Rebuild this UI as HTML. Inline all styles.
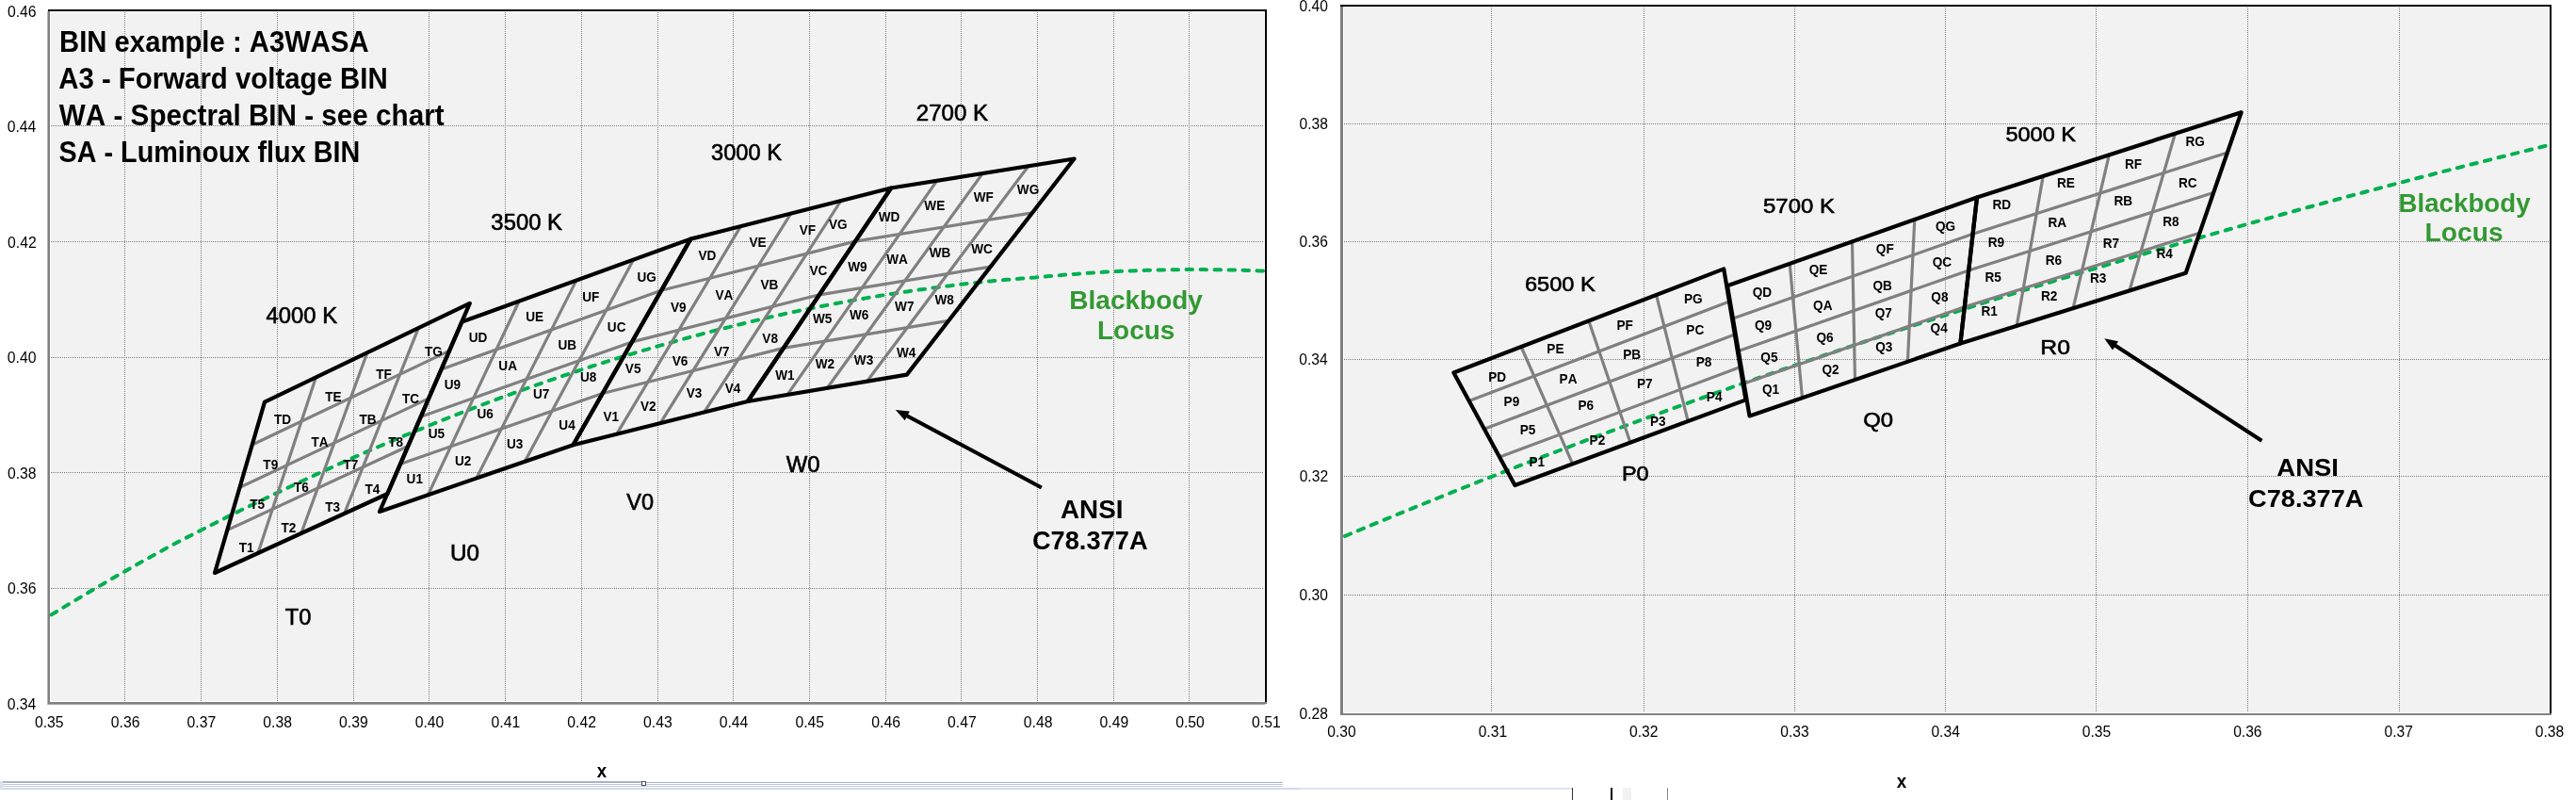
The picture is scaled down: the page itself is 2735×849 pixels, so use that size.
<!DOCTYPE html><html><head><meta charset="utf-8"><title>ANSI bins</title><style>
html,body{margin:0;padding:0;background:#fff;width:2735px;height:849px;overflow:hidden}
svg{display:block;will-change:transform}text{font-family:"Liberation Sans",sans-serif;font-kerning:none;white-space:pre}
</style></head><body>
<svg width="2735" height="849" viewBox="0 0 2735 849">
<rect x="51" y="10" width="1294" height="737" fill="#fff"/><rect x="54" y="13" width="1288" height="731" fill="#f2f2f2"/>
<rect x="1423" y="5" width="1286" height="754" fill="#fff"/><rect x="1427" y="8" width="1279" height="748" fill="#f2f2f2"/>
<path d="M132.5,13V744 M213.5,13V744 M294.5,13V744 M375.5,13V744 M455.5,13V744 M536.5,13V744 M617.5,13V744 M698.5,13V744 M778.5,13V744 M859.5,13V744 M940.5,13V744 M1020.5,13V744 M1101.5,13V744 M1182.5,13V744 M1262.5,13V744 M54,133.5H1342 M54,256.5H1342 M54,379.5H1342 M54,501.5H1342 M54,624.5H1342 M1583.5,8V756 M1745.5,8V756 M1905.5,8V756 M2065.5,8V756 M2225.5,8V756 M2386.5,8V756 M2547.5,8V756 M1427,131.5H2706 M1427,256.5H2706 M1427,381.5H2706 M1427,505.5H2706 M1427,631.5H2706" stroke="#7f7f7f" stroke-width="1" stroke-dasharray="1 1" fill="none" shape-rendering="crispEdges"/>
<defs><clipPath id="cl"><rect x="53" y="12" width="1290" height="733"/></clipPath><clipPath id="cr"><rect x="1426" y="7" width="1281" height="750"/></clipPath></defs>
<path clip-path="url(#cl)" d="M16.1,675.8 L20.7,673.0 L25.3,670.2 L30.0,667.4 L34.7,664.6 L39.5,661.8 L44.3,658.8 L49.2,655.7 L54.0,652.7 L59.0,649.7 L63.9,646.7 L69.0,643.6 L74.0,640.6 L79.1,637.5 L84.3,634.5 L89.5,631.4 L94.7,628.3 L100.0,625.2 L105.4,622.0 L110.8,618.9 L116.2,615.7 L121.7,612.5 L127.2,609.4 L132.8,606.2 L138.5,603.0 L144.2,599.8 L149.9,596.5 L155.7,593.3 L161.6,590.1 L167.5,586.8 L173.5,583.5 L179.5,580.2 L185.5,577.0 L191.7,573.8 L197.9,570.6 L204.1,567.4 L210.4,564.2 L216.8,561.0 L223.2,557.7 L229.7,554.5 L236.2,551.2 L242.8,547.9 L249.5,544.6 L256.2,541.3 L263.0,538.0 L269.9,534.7 L276.8,531.4 L283.8,528.0 L290.8,524.7 L298.5,521.0 L300.3,520.1 L302.1,519.3 L303.9,518.4 L305.7,517.6 L307.5,516.7 L309.3,515.9 L311.2,515.0 L313.0,514.1 L314.8,513.3 L316.6,512.4 L318.5,511.6 L320.3,510.7 L322.2,509.8 L324.0,509.0 L325.8,508.1 L327.7,507.2 L329.6,506.4 L331.4,505.5 L333.3,504.7 L335.2,503.8 L337.0,502.9 L338.9,502.1 L340.8,501.2 L342.7,500.3 L344.6,499.5 L346.5,498.6 L348.4,497.7 L350.3,496.9 L352.2,496.0 L354.1,495.1 L356.0,494.3 L357.9,493.4 L359.8,492.5 L361.8,491.7 L363.7,490.8 L365.6,489.9 L367.6,489.1 L369.5,488.2 L371.5,487.3 L373.4,486.5 L375.4,485.6 L377.3,484.7 L379.3,483.9 L381.3,483.0 L383.2,482.1 L385.2,481.3 L387.2,480.4 L389.2,479.5 L391.2,478.7 L393.2,477.8 L395.2,476.9 L397.2,476.1 L399.2,475.2 L401.2,474.3 L403.2,473.5 L405.2,472.6 L407.3,471.7 L409.3,470.9 L411.3,470.0 L413.4,469.1 L415.4,468.3 L417.5,467.4 L419.5,466.5 L421.6,465.7 L423.6,464.8 L425.7,463.9 L427.8,463.1 L429.9,462.2 L431.9,461.3 L434.0,460.5 L436.1,459.6 L438.2,458.7 L440.3,457.9 L442.4,457.0 L444.5,456.1 L446.7,455.3 L448.8,454.4 L450.9,453.5 L453.0,452.7 L455.2,451.8 L457.3,450.9 L459.4,450.1 L461.6,449.2 L463.7,448.3 L465.9,447.5 L468.1,446.6 L470.2,445.7 L472.4,444.9 L474.6,444.0 L476.8,443.1 L479.0,442.3 L481.2,441.4 L483.4,440.6 L485.6,439.7 L487.8,438.8 L490.0,438.0 L492.2,437.1 L494.4,436.3 L496.7,435.4 L498.9,434.5 L501.1,433.7 L503.4,432.8 L505.6,432.0 L507.9,431.1 L510.1,430.2 L512.4,429.4 L514.7,428.5 L516.9,427.7 L519.2,426.8 L521.5,426.0 L523.8,425.1 L526.1,424.3 L528.4,423.4 L530.7,422.5 L533.0,421.7 L535.3,420.8 L537.7,420.0 L540.0,419.1 L542.3,418.3 L544.7,417.4 L547.0,416.6 L549.4,415.7 L551.7,414.9 L554.1,414.0 L556.5,413.2 L558.8,412.4 L561.2,411.5 L563.6,410.7 L566.0,409.8 L568.4,409.0 L570.8,408.1 L573.2,407.3 L575.6,406.5 L578.0,405.6 L580.4,404.8 L582.9,403.9 L585.3,403.1 L587.7,402.3 L590.2,401.4 L592.6,400.6 L595.1,399.8 L597.6,398.9 L600.0,398.1 L602.5,397.3 L605.0,396.5 L607.5,395.6 L610.0,394.8 L612.5,394.0 L615.0,393.1 L617.5,392.3 L620.0,391.5 L622.5,390.7 L625.1,389.9 L627.6,389.0 L630.1,388.2 L632.7,387.4 L635.2,386.6 L637.8,385.8 L640.4,385.0 L642.9,384.1 L645.5,383.3 L648.1,382.5 L650.7,381.7 L653.3,380.9 L655.9,380.1 L658.5,379.3 L661.1,378.5 L663.7,377.7 L666.4,376.9 L669.0,376.1 L671.7,375.3 L674.3,374.5 L677.0,373.7 L679.6,372.9 L682.3,372.1 L685.0,371.3 L687.6,370.6 L690.3,369.8 L693.0,369.0 L695.7,368.2 L698.4,367.4 L701.1,366.6 L703.9,365.9 L706.6,365.1 L709.3,364.3 L712.1,363.5 L714.8,362.8 L717.6,362.0 L720.3,361.2 L723.1,360.5 L725.9,359.7 L728.6,358.9 L731.4,358.2 L734.2,357.4 L737.0,356.7 L739.8,355.9 L742.6,355.2 L745.5,354.4 L748.3,353.7 L751.1,352.9 L754.0,352.2 L756.8,351.4 L759.7,350.7 L762.5,350.0 L765.4,349.2 L768.3,348.5 L771.2,347.8 L774.1,347.1 L777.0,346.3 L779.9,345.6 L782.8,344.9 L785.7,344.2 L788.6,343.5 L791.6,342.7 L794.5,342.0 L797.4,341.3 L800.4,340.6 L803.4,339.9 L806.3,339.2 L809.3,338.5 L812.3,337.8 L815.3,337.1 L818.3,336.4 L821.3,335.8 L824.3,335.1 L827.3,334.4 L830.4,333.7 L833.4,333.0 L836.5,332.4 L839.5,331.7 L842.6,331.0 L845.6,330.4 L848.7,329.7 L851.8,329.1 L854.9,328.4 L858.0,327.8 L861.1,327.2 L864.2,326.6 L867.3,326.0 L870.5,325.3 L873.6,324.7 L876.7,324.1 L879.9,323.5 L883.1,322.9 L886.2,322.3 L889.4,321.7 L892.6,321.1 L895.8,320.6 L899.0,320.0 L902.2,319.4 L905.4,318.8 L908.6,318.2 L911.9,317.7 L915.1,317.1 L918.3,316.6 L921.6,316.0 L924.9,315.5 L928.1,314.9 L931.4,314.4 L934.7,313.8 L938.0,313.3 L941.3,312.8 L944.6,312.2 L947.9,311.7 L951.3,311.2 L954.6,310.7 L958.0,310.2 L961.3,309.7 L964.7,309.2 L968.1,308.7 L971.4,308.2 L974.8,307.7 L978.2,307.2 L981.6,306.8 L985.0,306.3 L988.5,305.8 L991.9,305.4 L995.3,304.9 L998.8,304.5 L1002.2,304.0 L1005.7,303.6 L1009.2,303.2 L1012.6,302.7 L1016.1,302.3 L1019.6,301.9 L1023.1,301.5 L1026.7,301.1 L1030.2,300.7 L1033.7,300.3 L1037.3,299.9 L1040.8,299.5 L1044.4,299.1 L1047.9,298.8 L1051.5,298.4 L1055.1,298.1 L1058.7,297.8 L1062.3,297.4 L1065.9,297.1 L1069.5,296.8 L1073.2,296.5 L1076.8,296.2 L1080.4,295.9 L1084.1,295.6 L1087.8,295.3 L1091.4,295.0 L1095.1,294.7 L1098.8,294.5 L1102.5,294.2 L1106.2,293.8 L1109.9,293.5 L1113.7,293.1 L1117.4,292.8 L1121.1,292.5 L1124.9,292.2 L1128.7,291.8 L1132.4,291.5 L1136.2,291.2 L1140.0,290.9 L1143.8,290.7 L1147.6,290.4 L1151.4,290.1 L1155.2,289.8 L1159.1,289.6 L1162.9,289.3 L1166.8,289.1 L1170.6,288.8 L1174.5,288.6 L1178.4,288.4 L1182.3,288.2 L1186.2,288.0 L1190.1,287.8 L1194.0,287.7 L1197.9,287.5 L1201.8,287.4 L1205.8,287.2 L1209.7,287.1 L1213.7,287.0 L1217.7,286.8 L1221.6,286.7 L1225.6,286.6 L1229.6,286.5 L1233.6,286.5 L1237.7,286.4 L1241.7,286.3 L1245.7,286.3 L1249.7,286.2 L1253.8,286.2 L1257.9,286.1 L1261.9,286.1 L1266.0,286.1 L1270.1,286.1 L1274.2,286.1 L1278.3,286.1 L1282.4,286.2 L1286.5,286.2 L1290.6,286.3 L1294.8,286.3 L1298.9,286.4 L1303.1,286.5 L1307.2,286.5 L1311.4,286.6 L1315.6,286.7 L1319.8,286.8 L1324.0,286.9 L1328.2,287.1 L1332.4,287.2 L1336.6,287.4 L1340.9,287.5 L1345.1,287.7 L1349.4,287.9 L1353.6,288.0 L1357.9,288.2 L1362.2,288.5 L1366.4,288.7 L1370.7,288.9 L1375.0,289.1 L1379.3,289.4 L1383.6,289.7" fill="none" stroke="#00b050" stroke-width="4" stroke-dasharray="6.5 8.5" stroke-linecap="round"/>
<path clip-path="url(#cr)" d="M1345.0,603.7 L1348.1,602.4 L1351.1,601.1 L1354.2,599.8 L1357.3,598.5 L1360.4,597.2 L1363.5,595.9 L1366.7,594.6 L1369.8,593.2 L1373.0,591.9 L1376.2,590.5 L1379.4,589.2 L1382.7,587.8 L1385.9,586.5 L1389.2,585.1 L1392.5,583.7 L1395.9,582.3 L1399.2,580.9 L1402.6,579.5 L1406.0,578.1 L1409.4,576.7 L1412.8,575.3 L1416.3,573.8 L1419.7,572.4 L1423.2,570.9 L1426.7,569.5 L1430.3,568.0 L1433.8,566.5 L1437.4,565.0 L1441.0,563.5 L1444.7,562.0 L1448.3,560.5 L1452.0,559.0 L1455.7,557.4 L1459.4,555.9 L1463.2,554.4 L1467.0,552.8 L1470.8,551.2 L1474.6,549.7 L1478.4,548.1 L1482.3,546.5 L1486.2,544.9 L1490.1,543.3 L1494.1,541.7 L1498.1,540.1 L1502.1,538.4 L1506.1,536.8 L1510.2,535.2 L1514.3,533.5 L1518.4,531.9 L1522.5,530.2 L1526.7,528.5 L1530.9,526.8 L1535.1,525.1 L1539.4,523.4 L1543.6,521.7 L1548.0,520.0 L1552.3,518.2 L1556.7,516.5 L1561.1,514.8 L1565.5,513.0 L1570.0,511.2 L1574.5,509.4 L1579.0,507.7 L1583.5,505.9 L1588.1,504.1 L1592.8,502.2 L1597.4,500.4 L1602.1,498.6 L1606.8,496.8 L1611.6,494.9 L1616.4,493.1 L1621.2,491.2 L1626.0,489.4 L1630.9,487.5 L1635.8,485.6 L1640.8,483.7 L1645.8,481.8 L1650.8,479.9 L1655.9,478.0 L1661.0,476.0 L1666.2,474.1 L1671.3,472.1 L1676.6,470.2 L1681.8,468.2 L1687.1,466.2 L1692.4,464.2 L1697.8,462.2 L1703.2,460.2 L1708.7,458.2 L1714.2,456.1 L1719.7,454.1 L1725.3,452.0 L1730.9,449.9 L1736.6,447.9 L1742.3,445.8 L1748.0,443.7 L1753.8,441.6 L1759.6,439.4 L1765.5,437.3 L1771.4,435.1 L1777.4,433.0 L1783.4,430.8 L1789.5,428.6 L1795.6,426.4 L1801.8,424.2 L1808.0,422.0 L1814.2,419.8 L1820.5,417.5 L1826.9,415.3 L1833.3,413.0 L1839.7,410.7 L1846.2,408.4 L1852.8,406.1 L1859.4,403.8 L1866.0,401.5 L1872.7,399.1 L1879.5,396.8 L1886.3,394.4 L1893.2,392.0 L1900.1,389.6 L1907.1,387.2 L1914.1,384.8 L1921.2,382.4 L1928.4,380.0 L1935.6,377.5 L1942.9,375.0 L1950.2,372.6 L1957.6,370.1 L1965.0,367.6 L1972.5,365.0 L1980.1,362.5 L1987.7,360.0 L1995.4,357.4 L2003.2,354.8 L2011.0,352.3 L2018.9,349.7 L2026.9,347.0 L2034.9,344.4 L2043.0,341.8 L2051.2,339.1 L2059.4,336.5 L2067.7,333.8 L2076.1,331.1 L2084.5,328.4 L2093.0,325.7 L2101.6,322.9 L2110.3,320.2 L2119.0,317.4 L2127.9,314.7 L2136.7,311.9 L2145.7,309.1 L2154.8,306.3 L2163.9,303.4 L2173.1,300.6 L2182.4,297.7 L2191.7,294.9 L2201.2,292.0 L2210.7,289.1 L2220.3,286.2 L2230.0,283.3 L2239.8,280.3 L2249.7,277.4 L2259.7,274.4 L2269.7,271.4 L2279.9,268.4 L2290.1,265.4 L2300.4,262.4 L2310.9,259.4 L2321.4,256.3 L2332.0,253.3 L2342.7,250.2 L2353.5,247.1 L2364.4,244.0 L2375.4,240.9 L2386.5,237.7 L2397.7,234.6 L2409.0,231.5 L2420.4,228.3 L2431.9,225.1 L2443.5,221.9 L2455.3,218.7 L2467.1,215.5 L2479.0,212.3 L2491.1,209.0 L2503.3,205.8 L2515.6,202.5 L2528.0,199.2 L2540.5,195.9 L2553.1,192.6 L2565.8,189.3 L2578.7,186.0 L2591.7,182.6 L2604.8,179.3 L2618.1,175.9 L2631.4,172.6 L2644.9,169.2 L2658.5,165.8 L2672.3,162.4 L2686.1,159.0 L2700.1,155.5 L2715.4,151.8 L2718.9,150.9 L2722.5,150.1 L2726.1,149.2 L2729.7,148.3 L2733.3,147.4 L2736.9,146.5 L2740.5,145.7 L2744.1,144.8 L2747.7,143.9 L2751.3,143.0 L2755.0,142.2 L2758.6,141.3 L2762.3,140.4 L2766.0,139.5 L2769.6,138.6 L2773.3,137.8 L2777.0,136.9 L2780.7,136.0 L2784.4,135.1" fill="none" stroke="#00b050" stroke-width="4" stroke-dasharray="6.5 8.5" stroke-linecap="round"/>
<g stroke="#808080" stroke-width="3.2" stroke-linecap="round"><line x1="273.9" y1="587.0" x2="335.4" y2="400.4"/><line x1="241.2" y1="562.6" x2="433.3" y2="473.5"/><line x1="319.8" y1="566.0" x2="389.9" y2="374.2"/><line x1="254.5" y1="517.3" x2="455.1" y2="422.9"/><line x1="365.6" y1="545.0" x2="444.3" y2="348.1"/><line x1="267.8" y1="472.0" x2="476.9" y2="372.4"/></g><g stroke="#808080" stroke-width="3.2" stroke-linecap="round"><line x1="454.4" y1="525.3" x2="551.2" y2="319.5"/><line x1="424.9" y1="492.6" x2="639.7" y2="417.5"/><line x1="505.8" y1="507.6" x2="611.9" y2="297.6"/><line x1="446.8" y1="442.2" x2="670.9" y2="362.9"/><line x1="557.1" y1="489.9" x2="672.6" y2="275.6"/><line x1="468.6" y1="391.9" x2="702.1" y2="308.2"/></g><g stroke="#808080" stroke-width="3.2" stroke-linecap="round"><line x1="654.8" y1="460.6" x2="786.5" y2="240.1"/><line x1="639.7" y1="417.5" x2="831.9" y2="369.4"/><line x1="701.1" y1="449.1" x2="839.7" y2="226.6"/><line x1="670.9" y1="362.9" x2="870.0" y2="312.8"/><line x1="747.5" y1="437.6" x2="892.9" y2="213.0"/><line x1="702.1" y1="308.2" x2="908.0" y2="256.1"/></g><g stroke="#808080" stroke-width="3.2" stroke-linecap="round"><line x1="836.0" y1="418.9" x2="994.7" y2="191.8"/><line x1="831.9" y1="369.4" x2="1007.2" y2="340.3"/><line x1="878.3" y1="411.8" x2="1043.3" y2="184.0"/><line x1="870.0" y1="312.8" x2="1051.6" y2="283.1"/><line x1="920.5" y1="404.7" x2="1091.9" y2="176.2"/><line x1="908.0" y1="256.1" x2="1096.1" y2="225.8"/></g><g stroke="#808080" stroke-width="3.2" stroke-linecap="round"><line x1="1669.7" y1="492.4" x2="1615.1" y2="368.0"/><line x1="1592.2" y1="485.1" x2="1847.7" y2="389.6"/><line x1="1731.0" y1="469.7" x2="1686.8" y2="340.4"/><line x1="1575.9" y1="455.2" x2="1841.8" y2="354.9"/><line x1="1792.2" y1="447.0" x2="1758.5" y2="312.9"/><line x1="1559.7" y1="425.4" x2="1836.0" y2="320.1"/></g><g stroke="#808080" stroke-width="3.2" stroke-linecap="round"><line x1="1913.5" y1="422.3" x2="1900.2" y2="279.9"/><line x1="1851.6" y1="406.9" x2="2085.8" y2="325.8"/><line x1="1969.5" y1="403.1" x2="1966.5" y2="256.4"/><line x1="1845.8" y1="372.4" x2="2090.2" y2="287.1"/><line x1="2025.4" y1="383.8" x2="2032.8" y2="232.9"/><line x1="1839.9" y1="337.9" x2="2094.6" y2="248.3"/></g><g stroke="#808080" stroke-width="3.2" stroke-linecap="round"><line x1="2141.2" y1="345.9" x2="2169.2" y2="186.9"/><line x1="2085.8" y1="325.8" x2="2335.4" y2="247.2"/><line x1="2201.1" y1="327.2" x2="2239.3" y2="164.4"/><line x1="2090.2" y1="287.1" x2="2350.1" y2="204.5"/><line x1="2260.9" y1="308.5" x2="2309.4" y2="141.8"/><line x1="2094.6" y1="248.3" x2="2364.9" y2="161.9"/></g>
<polygon points="228.0,608.0 411.5,524.0 498.8,321.9 281.0,426.6" fill="none" stroke="#000" stroke-width="4.2" stroke-linejoin="round"/><polygon points="403.0,543.0 608.5,472.2 733.3,253.6 490.5,341.5" fill="none" stroke="#000" stroke-width="4.2" stroke-linejoin="round"/><polygon points="608.5,472.2 793.8,426.0 946.1,199.5 733.3,253.6" fill="none" stroke="#000" stroke-width="4.2" stroke-linejoin="round"/><polygon points="793.8,426.0 962.8,397.6 1140.5,168.5 946.1,199.5" fill="none" stroke="#000" stroke-width="4.2" stroke-linejoin="round"/><polygon points="1608.4,515.0 1853.5,424.4 1830.2,285.4 1543.4,395.5" fill="none" stroke="#000" stroke-width="4.2" stroke-linejoin="round"/><polygon points="1857.5,441.5 2081.4,364.6 2099.0,209.5 1834.0,303.3" fill="none" stroke="#000" stroke-width="4.2" stroke-linejoin="round"/><polygon points="2081.4,364.6 2320.7,289.8 2379.6,119.2 2099.0,209.5" fill="none" stroke="#000" stroke-width="4.2" stroke-linejoin="round"/>
<text x="253.77" y="585.60" font-size="14.80" font-weight="bold" textLength="15.89" lengthAdjust="spacingAndGlyphs" fill="#000">T1</text><text x="298.45" y="565.20" font-size="14.80" font-weight="bold" textLength="15.89" lengthAdjust="spacingAndGlyphs" fill="#000">T2</text><text x="345.22" y="543.10" font-size="14.80" font-weight="bold" textLength="15.89" lengthAdjust="spacingAndGlyphs" fill="#000">T3</text><text x="387.52" y="524.00" font-size="14.80" font-weight="bold" textLength="15.89" lengthAdjust="spacingAndGlyphs" fill="#000">T4</text><text x="265.27" y="540.10" font-size="14.80" font-weight="bold" textLength="15.89" lengthAdjust="spacingAndGlyphs" fill="#000">T5</text><text x="312.02" y="521.80" font-size="14.80" font-weight="bold" textLength="15.89" lengthAdjust="spacingAndGlyphs" fill="#000">T6</text><text x="364.38" y="497.60" font-size="14.80" font-weight="bold" textLength="15.89" lengthAdjust="spacingAndGlyphs" fill="#000">T7</text><text x="412.29" y="474.20" font-size="14.80" font-weight="bold" textLength="15.89" lengthAdjust="spacingAndGlyphs" fill="#000">T8</text><text x="279.33" y="497.60" font-size="14.80" font-weight="bold" textLength="15.89" lengthAdjust="spacingAndGlyphs" fill="#000">T9</text><text x="330.43" y="474.20" font-size="14.80" font-weight="bold" textLength="18.15" lengthAdjust="spacingAndGlyphs" fill="#000">TA</text><text x="381.56" y="450.40" font-size="14.80" font-weight="bold" textLength="18.15" lengthAdjust="spacingAndGlyphs" fill="#000">TB</text><text x="426.93" y="428.30" font-size="14.80" font-weight="bold" textLength="18.15" lengthAdjust="spacingAndGlyphs" fill="#000">TC</text><text x="291.03" y="449.60" font-size="14.80" font-weight="bold" textLength="18.15" lengthAdjust="spacingAndGlyphs" fill="#000">TD</text><text x="345.29" y="426.20" font-size="14.80" font-weight="bold" textLength="17.40" lengthAdjust="spacingAndGlyphs" fill="#000">TE</text><text x="399.26" y="402.00" font-size="14.80" font-weight="bold" textLength="16.63" lengthAdjust="spacingAndGlyphs" fill="#000">TF</text><text x="450.99" y="378.20" font-size="14.80" font-weight="bold" textLength="18.91" lengthAdjust="spacingAndGlyphs" fill="#000">TG</text><text x="431.58" y="513.00" font-size="14.80" font-weight="bold" textLength="17.41" lengthAdjust="spacingAndGlyphs" fill="#000">U1</text><text x="482.96" y="493.50" font-size="14.80" font-weight="bold" textLength="17.41" lengthAdjust="spacingAndGlyphs" fill="#000">U2</text><text x="538.03" y="475.50" font-size="14.80" font-weight="bold" textLength="17.41" lengthAdjust="spacingAndGlyphs" fill="#000">U3</text><text x="593.32" y="456.00" font-size="14.80" font-weight="bold" textLength="17.41" lengthAdjust="spacingAndGlyphs" fill="#000">U4</text><text x="454.78" y="465.00" font-size="14.80" font-weight="bold" textLength="17.41" lengthAdjust="spacingAndGlyphs" fill="#000">U5</text><text x="506.53" y="444.40" font-size="14.80" font-weight="bold" textLength="17.41" lengthAdjust="spacingAndGlyphs" fill="#000">U6</text><text x="565.89" y="422.60" font-size="14.80" font-weight="bold" textLength="17.41" lengthAdjust="spacingAndGlyphs" fill="#000">U7</text><text x="616.00" y="405.00" font-size="14.80" font-weight="bold" textLength="17.41" lengthAdjust="spacingAndGlyphs" fill="#000">U8</text><text x="471.74" y="412.50" font-size="14.80" font-weight="bold" textLength="17.41" lengthAdjust="spacingAndGlyphs" fill="#000">U9</text><text x="529.34" y="393.00" font-size="14.80" font-weight="bold" textLength="19.67" lengthAdjust="spacingAndGlyphs" fill="#000">UA</text><text x="592.47" y="370.50" font-size="14.80" font-weight="bold" textLength="19.67" lengthAdjust="spacingAndGlyphs" fill="#000">UB</text><text x="644.84" y="351.80" font-size="14.80" font-weight="bold" textLength="19.67" lengthAdjust="spacingAndGlyphs" fill="#000">UC</text><text x="497.64" y="362.70" font-size="14.80" font-weight="bold" textLength="19.67" lengthAdjust="spacingAndGlyphs" fill="#000">UD</text><text x="558.30" y="340.60" font-size="14.80" font-weight="bold" textLength="18.91" lengthAdjust="spacingAndGlyphs" fill="#000">UE</text><text x="618.27" y="319.60" font-size="14.80" font-weight="bold" textLength="18.15" lengthAdjust="spacingAndGlyphs" fill="#000">UF</text><text x="676.50" y="299.30" font-size="14.80" font-weight="bold" textLength="20.42" lengthAdjust="spacingAndGlyphs" fill="#000">UG</text><text x="640.52" y="446.80" font-size="14.80" font-weight="bold" textLength="16.65" lengthAdjust="spacingAndGlyphs" fill="#000">V1</text><text x="680.00" y="436.30" font-size="14.80" font-weight="bold" textLength="16.65" lengthAdjust="spacingAndGlyphs" fill="#000">V2</text><text x="728.77" y="422.40" font-size="14.80" font-weight="bold" textLength="16.65" lengthAdjust="spacingAndGlyphs" fill="#000">V3</text><text x="769.76" y="416.80" font-size="14.80" font-weight="bold" textLength="16.65" lengthAdjust="spacingAndGlyphs" fill="#000">V4</text><text x="663.82" y="395.80" font-size="14.80" font-weight="bold" textLength="16.65" lengthAdjust="spacingAndGlyphs" fill="#000">V5</text><text x="713.77" y="388.00" font-size="14.80" font-weight="bold" textLength="16.65" lengthAdjust="spacingAndGlyphs" fill="#000">V6</text><text x="758.03" y="377.50" font-size="14.80" font-weight="bold" textLength="16.65" lengthAdjust="spacingAndGlyphs" fill="#000">V7</text><text x="809.34" y="364.30" font-size="14.80" font-weight="bold" textLength="16.65" lengthAdjust="spacingAndGlyphs" fill="#000">V8</text><text x="711.88" y="330.60" font-size="14.80" font-weight="bold" textLength="16.65" lengthAdjust="spacingAndGlyphs" fill="#000">V9</text><text x="759.38" y="318.20" font-size="14.80" font-weight="bold" textLength="18.91" lengthAdjust="spacingAndGlyphs" fill="#000">VA</text><text x="807.51" y="307.00" font-size="14.80" font-weight="bold" textLength="18.91" lengthAdjust="spacingAndGlyphs" fill="#000">VB</text><text x="859.48" y="292.00" font-size="14.80" font-weight="bold" textLength="18.91" lengthAdjust="spacingAndGlyphs" fill="#000">VC</text><text x="741.48" y="276.20" font-size="14.80" font-weight="bold" textLength="18.91" lengthAdjust="spacingAndGlyphs" fill="#000">VD</text><text x="795.44" y="262.00" font-size="14.80" font-weight="bold" textLength="18.16" lengthAdjust="spacingAndGlyphs" fill="#000">VE</text><text x="848.70" y="248.80" font-size="14.80" font-weight="bold" textLength="17.40" lengthAdjust="spacingAndGlyphs" fill="#000">VF</text><text x="880.04" y="243.20" font-size="14.80" font-weight="bold" textLength="19.67" lengthAdjust="spacingAndGlyphs" fill="#000">VG</text><text x="823.17" y="402.60" font-size="14.80" font-weight="bold" textLength="20.42" lengthAdjust="spacingAndGlyphs" fill="#000">W1</text><text x="865.65" y="391.30" font-size="14.80" font-weight="bold" textLength="20.42" lengthAdjust="spacingAndGlyphs" fill="#000">W2</text><text x="906.83" y="386.50" font-size="14.80" font-weight="bold" textLength="20.42" lengthAdjust="spacingAndGlyphs" fill="#000">W3</text><text x="952.02" y="379.30" font-size="14.80" font-weight="bold" textLength="20.42" lengthAdjust="spacingAndGlyphs" fill="#000">W4</text><text x="862.97" y="342.60" font-size="14.80" font-weight="bold" textLength="20.42" lengthAdjust="spacingAndGlyphs" fill="#000">W5</text><text x="902.03" y="338.80" font-size="14.80" font-weight="bold" textLength="20.42" lengthAdjust="spacingAndGlyphs" fill="#000">W6</text><text x="950.08" y="330.40" font-size="14.80" font-weight="bold" textLength="20.42" lengthAdjust="spacingAndGlyphs" fill="#000">W7</text><text x="992.39" y="323.10" font-size="14.80" font-weight="bold" textLength="20.42" lengthAdjust="spacingAndGlyphs" fill="#000">W8</text><text x="900.13" y="287.50" font-size="14.80" font-weight="bold" textLength="20.42" lengthAdjust="spacingAndGlyphs" fill="#000">W9</text><text x="941.23" y="280.40" font-size="14.80" font-weight="bold" textLength="22.68" lengthAdjust="spacingAndGlyphs" fill="#000">WA</text><text x="986.76" y="272.70" font-size="14.80" font-weight="bold" textLength="22.68" lengthAdjust="spacingAndGlyphs" fill="#000">WB</text><text x="1031.24" y="268.80" font-size="14.80" font-weight="bold" textLength="22.68" lengthAdjust="spacingAndGlyphs" fill="#000">WC</text><text x="932.74" y="235.00" font-size="14.80" font-weight="bold" textLength="22.68" lengthAdjust="spacingAndGlyphs" fill="#000">WD</text><text x="981.29" y="223.30" font-size="14.80" font-weight="bold" textLength="21.93" lengthAdjust="spacingAndGlyphs" fill="#000">WE</text><text x="1033.66" y="213.60" font-size="14.80" font-weight="bold" textLength="21.17" lengthAdjust="spacingAndGlyphs" fill="#000">WF</text><text x="1079.79" y="206.40" font-size="14.80" font-weight="bold" textLength="23.44" lengthAdjust="spacingAndGlyphs" fill="#000">WG</text><text x="1623.51" y="495.40" font-size="14.80" font-weight="bold" textLength="16.65" lengthAdjust="spacingAndGlyphs" fill="#000">P1</text><text x="1687.59" y="471.70" font-size="14.80" font-weight="bold" textLength="16.65" lengthAdjust="spacingAndGlyphs" fill="#000">P2</text><text x="1751.96" y="451.60" font-size="14.80" font-weight="bold" textLength="16.65" lengthAdjust="spacingAndGlyphs" fill="#000">P3</text><text x="1811.85" y="426.20" font-size="14.80" font-weight="bold" textLength="16.65" lengthAdjust="spacingAndGlyphs" fill="#000">P4</text><text x="1613.81" y="461.00" font-size="14.80" font-weight="bold" textLength="16.65" lengthAdjust="spacingAndGlyphs" fill="#000">P5</text><text x="1675.56" y="435.00" font-size="14.80" font-weight="bold" textLength="16.65" lengthAdjust="spacingAndGlyphs" fill="#000">P6</text><text x="1738.02" y="411.60" font-size="14.80" font-weight="bold" textLength="16.65" lengthAdjust="spacingAndGlyphs" fill="#000">P7</text><text x="1800.63" y="388.80" font-size="14.80" font-weight="bold" textLength="16.65" lengthAdjust="spacingAndGlyphs" fill="#000">P8</text><text x="1596.57" y="431.10" font-size="14.80" font-weight="bold" textLength="16.65" lengthAdjust="spacingAndGlyphs" fill="#000">P9</text><text x="1655.57" y="406.70" font-size="14.80" font-weight="bold" textLength="18.91" lengthAdjust="spacingAndGlyphs" fill="#000">PA</text><text x="1723.30" y="380.70" font-size="14.80" font-weight="bold" textLength="18.91" lengthAdjust="spacingAndGlyphs" fill="#000">PB</text><text x="1790.37" y="354.70" font-size="14.80" font-weight="bold" textLength="18.91" lengthAdjust="spacingAndGlyphs" fill="#000">PC</text><text x="1580.27" y="405.10" font-size="14.80" font-weight="bold" textLength="18.91" lengthAdjust="spacingAndGlyphs" fill="#000">PD</text><text x="1642.33" y="375.20" font-size="14.80" font-weight="bold" textLength="18.16" lengthAdjust="spacingAndGlyphs" fill="#000">PE</text><text x="1716.49" y="349.80" font-size="14.80" font-weight="bold" textLength="17.40" lengthAdjust="spacingAndGlyphs" fill="#000">PF</text><text x="1788.03" y="322.20" font-size="14.80" font-weight="bold" textLength="19.67" lengthAdjust="spacingAndGlyphs" fill="#000">PG</text><text x="1870.93" y="418.40" font-size="14.80" font-weight="bold" textLength="18.16" lengthAdjust="spacingAndGlyphs" fill="#000">Q1</text><text x="1934.41" y="397.20" font-size="14.80" font-weight="bold" textLength="18.16" lengthAdjust="spacingAndGlyphs" fill="#000">Q2</text><text x="1991.28" y="372.90" font-size="14.80" font-weight="bold" textLength="18.16" lengthAdjust="spacingAndGlyphs" fill="#000">Q3</text><text x="2049.58" y="353.40" font-size="14.80" font-weight="bold" textLength="18.16" lengthAdjust="spacingAndGlyphs" fill="#000">Q4</text><text x="1869.33" y="383.60" font-size="14.80" font-weight="bold" textLength="18.16" lengthAdjust="spacingAndGlyphs" fill="#000">Q5</text><text x="1928.48" y="363.40" font-size="14.80" font-weight="bold" textLength="18.16" lengthAdjust="spacingAndGlyphs" fill="#000">Q6</text><text x="1990.64" y="337.10" font-size="14.80" font-weight="bold" textLength="18.16" lengthAdjust="spacingAndGlyphs" fill="#000">Q7</text><text x="2050.35" y="319.60" font-size="14.80" font-weight="bold" textLength="18.16" lengthAdjust="spacingAndGlyphs" fill="#000">Q8</text><text x="1862.89" y="350.40" font-size="14.80" font-weight="bold" textLength="18.16" lengthAdjust="spacingAndGlyphs" fill="#000">Q9</text><text x="1925.09" y="329.00" font-size="14.80" font-weight="bold" textLength="20.42" lengthAdjust="spacingAndGlyphs" fill="#000">QA</text><text x="1988.52" y="307.90" font-size="14.80" font-weight="bold" textLength="20.42" lengthAdjust="spacingAndGlyphs" fill="#000">QB</text><text x="2051.79" y="282.80" font-size="14.80" font-weight="bold" textLength="20.42" lengthAdjust="spacingAndGlyphs" fill="#000">QC</text><text x="1860.79" y="315.30" font-size="14.80" font-weight="bold" textLength="20.42" lengthAdjust="spacingAndGlyphs" fill="#000">QD</text><text x="1920.65" y="291.00" font-size="14.80" font-weight="bold" textLength="19.67" lengthAdjust="spacingAndGlyphs" fill="#000">QE</text><text x="1991.82" y="269.20" font-size="14.80" font-weight="bold" textLength="18.91" lengthAdjust="spacingAndGlyphs" fill="#000">QF</text><text x="2054.95" y="244.50" font-size="14.80" font-weight="bold" textLength="21.18" lengthAdjust="spacingAndGlyphs" fill="#000">QG</text><text x="2103.53" y="335.40" font-size="14.80" font-weight="bold" textLength="17.41" lengthAdjust="spacingAndGlyphs" fill="#000">R1</text><text x="2166.91" y="318.80" font-size="14.80" font-weight="bold" textLength="17.41" lengthAdjust="spacingAndGlyphs" fill="#000">R2</text><text x="2218.89" y="300.30" font-size="14.80" font-weight="bold" textLength="17.41" lengthAdjust="spacingAndGlyphs" fill="#000">R3</text><text x="2289.48" y="274.30" font-size="14.80" font-weight="bold" textLength="17.41" lengthAdjust="spacingAndGlyphs" fill="#000">R4</text><text x="2107.43" y="298.70" font-size="14.80" font-weight="bold" textLength="17.41" lengthAdjust="spacingAndGlyphs" fill="#000">R5</text><text x="2171.79" y="280.80" font-size="14.80" font-weight="bold" textLength="17.41" lengthAdjust="spacingAndGlyphs" fill="#000">R6</text><text x="2232.64" y="262.90" font-size="14.80" font-weight="bold" textLength="17.41" lengthAdjust="spacingAndGlyphs" fill="#000">R7</text><text x="2296.15" y="239.50" font-size="14.80" font-weight="bold" textLength="17.41" lengthAdjust="spacingAndGlyphs" fill="#000">R8</text><text x="2110.69" y="261.90" font-size="14.80" font-weight="bold" textLength="17.41" lengthAdjust="spacingAndGlyphs" fill="#000">R9</text><text x="2174.49" y="240.50" font-size="14.80" font-weight="bold" textLength="19.67" lengthAdjust="spacingAndGlyphs" fill="#000">RA</text><text x="2244.52" y="218.40" font-size="14.80" font-weight="bold" textLength="19.67" lengthAdjust="spacingAndGlyphs" fill="#000">RB</text><text x="2312.90" y="198.90" font-size="14.80" font-weight="bold" textLength="19.67" lengthAdjust="spacingAndGlyphs" fill="#000">RC</text><text x="2115.50" y="221.70" font-size="14.80" font-weight="bold" textLength="19.67" lengthAdjust="spacingAndGlyphs" fill="#000">RD</text><text x="2184.05" y="198.90" font-size="14.80" font-weight="bold" textLength="18.91" lengthAdjust="spacingAndGlyphs" fill="#000">RE</text><text x="2255.92" y="178.50" font-size="14.80" font-weight="bold" textLength="18.15" lengthAdjust="spacingAndGlyphs" fill="#000">RF</text><text x="2320.55" y="155.10" font-size="14.80" font-weight="bold" textLength="20.42" lengthAdjust="spacingAndGlyphs" fill="#000">RG</text>
<rect x="51" y="10" width="1294" height="2" fill="#000"/><rect x="1343" y="10" width="2" height="735" fill="#000"/><rect x="51" y="12" width="2" height="735" fill="#808080"/><rect x="51" y="745" width="1294" height="2" fill="#808080"/>
<rect x="1423" y="5" width="1286" height="2" fill="#000"/><rect x="2707" y="5" width="2" height="752" fill="#000"/><rect x="1423" y="7" width="3" height="752" fill="#808080"/><rect x="1423" y="757" width="1286" height="2" fill="#808080"/>
<rect x="50" y="12" width="1" height="736" fill="#b4b4b4"/><rect x="51" y="747" width="1292" height="1" fill="#a8a8a8"/>
<text x="36.98" y="771.70" font-size="16.81" textLength="30.68" lengthAdjust="spacingAndGlyphs" fill="#000">0.35</text><text x="117.75" y="771.70" font-size="16.81" textLength="30.68" lengthAdjust="spacingAndGlyphs" fill="#000">0.36</text><text x="198.55" y="771.70" font-size="16.81" textLength="30.68" lengthAdjust="spacingAndGlyphs" fill="#000">0.37</text><text x="279.25" y="771.70" font-size="16.81" textLength="30.68" lengthAdjust="spacingAndGlyphs" fill="#000">0.38</text><text x="360.03" y="771.70" font-size="16.81" textLength="30.68" lengthAdjust="spacingAndGlyphs" fill="#000">0.39</text><text x="440.71" y="771.70" font-size="16.81" textLength="30.68" lengthAdjust="spacingAndGlyphs" fill="#000">0.40</text><text x="521.54" y="771.70" font-size="16.81" textLength="30.68" lengthAdjust="spacingAndGlyphs" fill="#000">0.41</text><text x="602.30" y="771.70" font-size="16.81" textLength="30.68" lengthAdjust="spacingAndGlyphs" fill="#000">0.42</text><text x="683.00" y="771.70" font-size="16.81" textLength="30.68" lengthAdjust="spacingAndGlyphs" fill="#000">0.43</text><text x="763.63" y="771.70" font-size="16.81" textLength="30.68" lengthAdjust="spacingAndGlyphs" fill="#000">0.44</text><text x="844.48" y="771.70" font-size="16.81" textLength="30.68" lengthAdjust="spacingAndGlyphs" fill="#000">0.45</text><text x="925.25" y="771.70" font-size="16.81" textLength="30.68" lengthAdjust="spacingAndGlyphs" fill="#000">0.46</text><text x="1006.05" y="771.70" font-size="16.81" textLength="30.68" lengthAdjust="spacingAndGlyphs" fill="#000">0.47</text><text x="1086.75" y="771.70" font-size="16.81" textLength="30.68" lengthAdjust="spacingAndGlyphs" fill="#000">0.48</text><text x="1167.53" y="771.70" font-size="16.81" textLength="30.68" lengthAdjust="spacingAndGlyphs" fill="#000">0.49</text><text x="1248.21" y="771.70" font-size="16.81" textLength="30.68" lengthAdjust="spacingAndGlyphs" fill="#000">0.50</text><text x="1329.04" y="771.70" font-size="16.81" textLength="30.68" lengthAdjust="spacingAndGlyphs" fill="#000">0.51</text><text x="1409.29" y="781.75" font-size="16.38" textLength="30.42" lengthAdjust="spacingAndGlyphs" fill="#000">0.30</text><text x="1569.67" y="781.75" font-size="16.38" textLength="30.42" lengthAdjust="spacingAndGlyphs" fill="#000">0.31</text><text x="1729.98" y="781.75" font-size="16.38" textLength="30.42" lengthAdjust="spacingAndGlyphs" fill="#000">0.32</text><text x="1890.23" y="781.75" font-size="16.38" textLength="30.42" lengthAdjust="spacingAndGlyphs" fill="#000">0.33</text><text x="2050.41" y="781.75" font-size="16.38" textLength="30.42" lengthAdjust="spacingAndGlyphs" fill="#000">0.34</text><text x="2210.81" y="781.75" font-size="16.38" textLength="30.42" lengthAdjust="spacingAndGlyphs" fill="#000">0.35</text><text x="2371.13" y="781.75" font-size="16.38" textLength="30.42" lengthAdjust="spacingAndGlyphs" fill="#000">0.36</text><text x="2531.48" y="781.75" font-size="16.38" textLength="30.42" lengthAdjust="spacingAndGlyphs" fill="#000">0.37</text><text x="2691.72" y="781.75" font-size="16.38" textLength="30.42" lengthAdjust="spacingAndGlyphs" fill="#000">0.38</text><text x="7.92" y="17.90" font-size="16.81" textLength="30.68" lengthAdjust="spacingAndGlyphs" fill="#000">0.46</text><text x="7.68" y="140.40" font-size="16.81" textLength="30.68" lengthAdjust="spacingAndGlyphs" fill="#000">0.44</text><text x="8.02" y="262.90" font-size="16.81" textLength="30.68" lengthAdjust="spacingAndGlyphs" fill="#000">0.42</text><text x="7.84" y="385.40" font-size="16.81" textLength="30.68" lengthAdjust="spacingAndGlyphs" fill="#000">0.40</text><text x="7.91" y="507.90" font-size="16.81" textLength="30.68" lengthAdjust="spacingAndGlyphs" fill="#000">0.38</text><text x="7.92" y="630.40" font-size="16.81" textLength="30.68" lengthAdjust="spacingAndGlyphs" fill="#000">0.36</text><text x="7.68" y="752.90" font-size="16.81" textLength="30.68" lengthAdjust="spacingAndGlyphs" fill="#000">0.34</text><text x="1379.49" y="11.60" font-size="16.38" textLength="30.42" lengthAdjust="spacingAndGlyphs" fill="#000">0.40</text><text x="1379.56" y="137.10" font-size="16.38" textLength="30.42" lengthAdjust="spacingAndGlyphs" fill="#000">0.38</text><text x="1379.57" y="262.10" font-size="16.38" textLength="30.42" lengthAdjust="spacingAndGlyphs" fill="#000">0.36</text><text x="1379.34" y="387.10" font-size="16.38" textLength="30.42" lengthAdjust="spacingAndGlyphs" fill="#000">0.34</text><text x="1379.66" y="511.40" font-size="16.38" textLength="30.42" lengthAdjust="spacingAndGlyphs" fill="#000">0.32</text><text x="1379.49" y="637.10" font-size="16.38" textLength="30.42" lengthAdjust="spacingAndGlyphs" fill="#000">0.30</text><text x="1379.56" y="763.10" font-size="16.38" textLength="30.42" lengthAdjust="spacingAndGlyphs" fill="#000">0.28</text>
<text x="63.04" y="55.00" font-size="30.52" font-weight="bold" textLength="328.63" lengthAdjust="spacingAndGlyphs" fill="#000">BIN example : A3WASA</text><text x="62.17" y="94.00" font-size="30.52" font-weight="bold" textLength="349.51" lengthAdjust="spacingAndGlyphs" fill="#000">A3 - Forward voltage BIN</text><text x="62.87" y="133.00" font-size="30.52" font-weight="bold" textLength="408.69" lengthAdjust="spacingAndGlyphs" fill="#000">WA - Spectral BIN - see chart</text><text x="62.57" y="172.00" font-size="30.52" font-weight="bold" textLength="319.67" lengthAdjust="spacingAndGlyphs" fill="#000">SA - Luminoux flux BIN</text><text x="282.55" y="342.50" font-size="23.26" textLength="75.51" lengthAdjust="spacingAndGlyphs" fill="#000" stroke="#000" stroke-width="0.60">4000 K</text><text x="521.39" y="244.30" font-size="23.26" textLength="75.58" lengthAdjust="spacingAndGlyphs" fill="#000" stroke="#000" stroke-width="0.60">3500 K</text><text x="755.10" y="170.40" font-size="23.26" textLength="74.86" lengthAdjust="spacingAndGlyphs" fill="#000" stroke="#000" stroke-width="0.60">3000 K</text><text x="972.79" y="128.00" font-size="23.26" textLength="76.28" lengthAdjust="spacingAndGlyphs" fill="#000" stroke="#000" stroke-width="0.60">2700 K</text><text x="302.87" y="662.60" font-size="23.26" textLength="27.66" lengthAdjust="spacingAndGlyphs" fill="#000" stroke="#000" stroke-width="0.60">T0</text><text x="477.93" y="595.20" font-size="23.26" textLength="31.02" lengthAdjust="spacingAndGlyphs" fill="#000" stroke="#000" stroke-width="0.60">U0</text><text x="665.20" y="541.10" font-size="23.26" textLength="28.82" lengthAdjust="spacingAndGlyphs" fill="#000" stroke="#000" stroke-width="0.60">V0</text><text x="834.80" y="501.20" font-size="23.26" textLength="35.84" lengthAdjust="spacingAndGlyphs" fill="#000" stroke="#000" stroke-width="0.60">W0</text><text x="1618.90" y="308.50" font-size="22.67" textLength="74.76" lengthAdjust="spacingAndGlyphs" fill="#000" stroke="#000" stroke-width="0.60">6500 K</text><text x="1872.04" y="226.10" font-size="22.67" textLength="75.83" lengthAdjust="spacingAndGlyphs" fill="#000" stroke="#000" stroke-width="0.60">5700 K</text><text x="2129.46" y="149.50" font-size="22.67" textLength="74.51" lengthAdjust="spacingAndGlyphs" fill="#000" stroke="#000" stroke-width="0.60">5000 K</text><text x="1721.98" y="510.30" font-size="21.37" textLength="28.63" lengthAdjust="spacingAndGlyphs" fill="#000" stroke="#000" stroke-width="0.60">P0</text><text x="1978.17" y="453.30" font-size="21.37" textLength="31.86" lengthAdjust="spacingAndGlyphs" fill="#000" stroke="#000" stroke-width="0.60">Q0</text><text x="2166.27" y="376.40" font-size="21.37" textLength="31.70" lengthAdjust="spacingAndGlyphs" fill="#000" stroke="#000" stroke-width="0.60">R0</text><text x="1135.33" y="327.80" font-size="28.05" font-weight="bold" textLength="141.62" lengthAdjust="spacingAndGlyphs" fill="#339933">Blackbody</text><text x="1164.93" y="360.10" font-size="28.49" font-weight="bold" textLength="82.52" lengthAdjust="spacingAndGlyphs" fill="#339933">Locus</text><text x="2546.45" y="224.90" font-size="28.05" font-weight="bold" textLength="140.20" lengthAdjust="spacingAndGlyphs" fill="#339933">Blackbody</text><text x="2574.41" y="256.30" font-size="28.05" font-weight="bold" textLength="83.25" lengthAdjust="spacingAndGlyphs" fill="#339933">Locus</text><text x="1126.01" y="549.70" font-size="27.03" font-weight="bold" textLength="66.45" lengthAdjust="spacingAndGlyphs" fill="#000">ANSI</text><text x="1095.88" y="582.90" font-size="26.89" font-weight="bold" textLength="122.74" lengthAdjust="spacingAndGlyphs" fill="#000">C78.377A</text><text x="2417.31" y="505.00" font-size="26.45" font-weight="bold" textLength="65.73" lengthAdjust="spacingAndGlyphs" fill="#000">ANSI</text><text x="2387.09" y="538.00" font-size="26.45" font-weight="bold" textLength="122.33" lengthAdjust="spacingAndGlyphs" fill="#000">C78.377A</text>
<line x1="1105.8" y1="517.4" x2="961.5" y2="440.5" stroke="#000" stroke-width="4"/><polygon points="950.9,434.9 965.8,436.6 960.7,446.3" fill="#000"/>
<line x1="2401.4" y1="467.8" x2="2244.4" y2="365.7" stroke="#000" stroke-width="4"/><polygon points="2234.3,359.2 2249.0,362.2 2243.0,371.4" fill="#000"/>
<text x="633.87" y="825.10" font-size="20.00" font-weight="bold" textLength="10.36" lengthAdjust="spacingAndGlyphs" fill="#000">x</text><text x="2013.87" y="835.80" font-size="20.00" font-weight="bold" textLength="10.47" lengthAdjust="spacingAndGlyphs" fill="#000">x</text>
<g shape-rendering="crispEdges"><rect x="0" y="829" width="3" height="9" fill="#d8e2ee"/><rect x="3" y="829" width="678" height="2" fill="#a7b4c9"/><rect x="686" y="830" width="676" height="1" fill="#a7b4c9"/><rect x="3" y="832" width="1359" height="1" fill="#bcc7d8"/><rect x="3" y="834" width="1359" height="1" fill="#c3cedd"/><rect x="3" y="836" width="1377" height="2" fill="#d0dbe8"/><rect x="1380" y="836" width="289" height="2" fill="#dce6f2"/><rect x="681.5" y="829.5" width="4" height="4" fill="#fff" stroke="#505050" stroke-width="1"/><rect x="1669" y="836" width="1" height="13" fill="#333"/><rect x="1710" y="836" width="2" height="13" fill="#000"/><rect x="1723" y="836" width="9" height="13" fill="#f2f2f2"/><rect x="1770" y="836" width="1" height="13" fill="#888"/></g>
</svg></body></html>
